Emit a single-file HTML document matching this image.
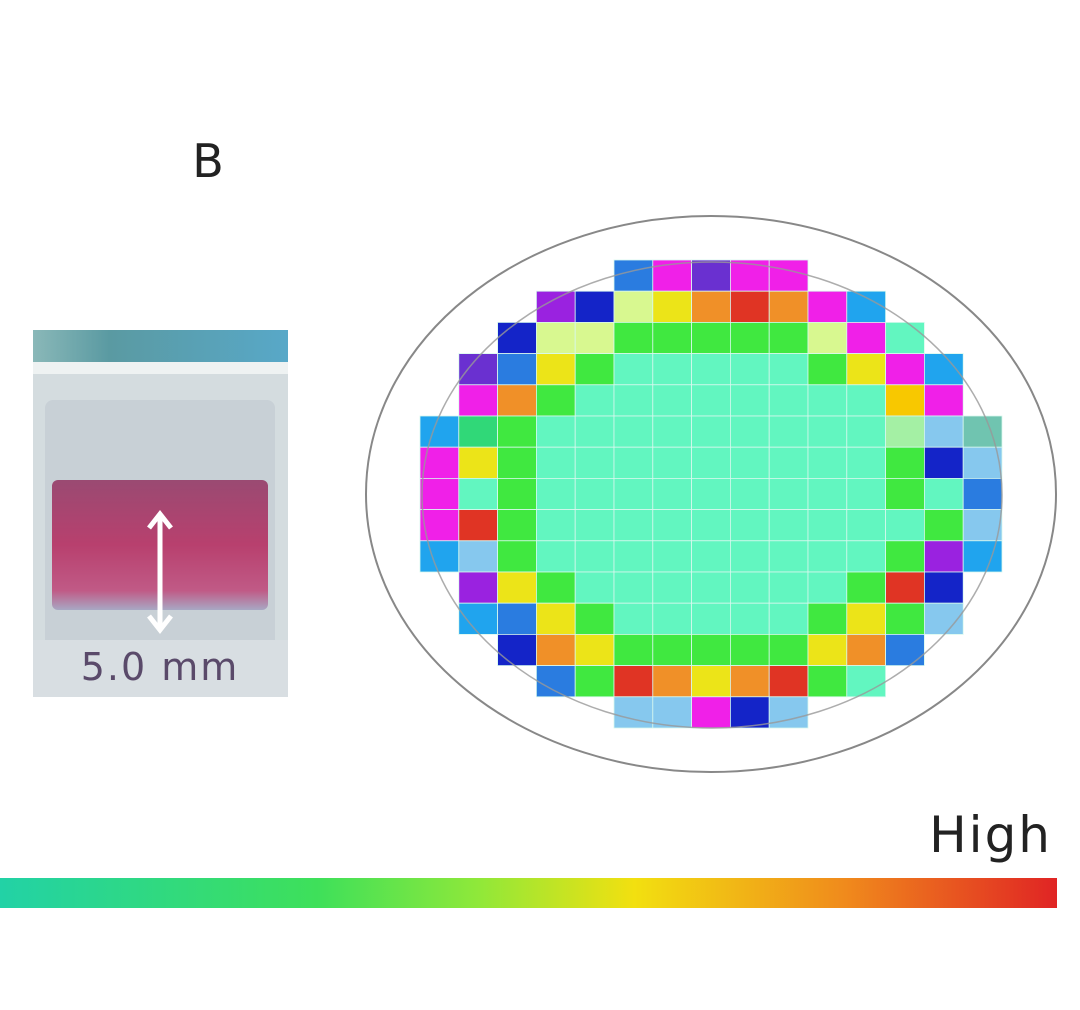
<!DOCTYPE html>
<html><head><meta charset="utf-8"><style>
html,body{margin:0;padding:0;background:#fff}
svg{display:block}
</style></head><body>
<svg id="fig" width="1080" height="1010" viewBox="0 0 1080 1010" xmlns="http://www.w3.org/2000/svg">
<defs>
<linearGradient id="cbar" x1="0" x2="1" y1="0" y2="0">
<stop offset="0" stop-color="#22d2a6"/><stop offset="0.3" stop-color="#3ee05a"/><stop offset="0.45" stop-color="#8ee83a"/>
<stop offset="0.6" stop-color="#f2e010"/><stop offset="0.8" stop-color="#f08a1c"/><stop offset="1" stop-color="#e02424"/>
</linearGradient>
<linearGradient id="liq" x1="0" x2="0" y1="0" y2="1">
<stop offset="0" stop-color="#9a4a72"/><stop offset="0.5" stop-color="#b8406e"/><stop offset="0.85" stop-color="#c05a86"/><stop offset="1" stop-color="#a8a8c4"/>
</linearGradient>
<linearGradient id="topband" x1="0" x2="1"><stop offset="0" stop-color="#8ab8b8"/><stop offset="0.3" stop-color="#5a9aa2"/><stop offset="1" stop-color="#58a8c8"/></linearGradient>
</defs>
<text x="208" y="177" font-family="DejaVu Sans, sans-serif" font-size="46" text-anchor="middle" fill="#222">B</text>
<g>
<rect x="33" y="330" width="255" height="367" fill="#d4dcdf"/>
<rect x="33" y="330" width="255" height="32" fill="url(#topband)"/>
<rect x="33" y="362" width="255" height="12" fill="#eef2f2"/>
<rect x="45" y="400" width="230" height="260" rx="8" fill="#c8d0d6"/>
<rect x="52" y="480" width="216" height="130" rx="6" fill="url(#liq)"/>
<rect x="33" y="640" width="255" height="57" fill="#d8dee2"/>
<line x1="160" y1="516" x2="160" y2="628" stroke="#fff" stroke-width="5"/>
<polyline points="149,528 160,514 171,528" fill="none" stroke="#fff" stroke-width="5"/>
<polyline points="149,616 160,630 171,616" fill="none" stroke="#fff" stroke-width="5"/>
<text x="160" y="680" font-family="DejaVu Sans, sans-serif" font-size="38" letter-spacing="2" text-anchor="middle" fill="#5a4a6a">5.0 mm</text>
</g>
<ellipse cx="711" cy="494" rx="345" ry="278" fill="none" stroke="#888" stroke-width="2"/>
<g id="grid"></g>
<ellipse cx="712" cy="495" rx="290" ry="233" fill="none" stroke="#999" stroke-width="1.5" opacity="0.8"/>
<text x="1052" y="852" font-family="DejaVu Sans, sans-serif" font-size="50" letter-spacing="2" text-anchor="end" fill="#222">High</text>
<rect x="0" y="878" width="1057" height="30" fill="url(#cbar)"/>
</svg>
<script>
const palette = {T:"#62f6c0",G:"#40e840",P:"#d8f890",Y:"#ece418",y:"#f8c800",O:"#f09028",R:"#e03424",M:"#f020e8",V:"#9a22e0",v:"#6a30d0",D:"#1424c8",B:"#2a7ce0",A:"#20a4ee",L:"#86c8ee",g:"#30d878",q:"#a4f0a4",s:"#70c4b0"};
const rows = [
"     BMvMM     ",
"   VDPYOROMA   ",
"  DPPGGGGGPMT  ",
" vBYGTTTTTGYMA ",
" MOGTTTTTTTTyM ",
"AgGTTTTTTTTTqLs",
"MYGTTTTTTTTTGDL",
"MTGTTTTTTTTTGTB",
"MRGTTTTTTTTTTGL",
"ALGTTTTTTTTTGVA",
" VYGTTTTTTTGRD ",
" ABYGTTTTTGYGL ",
"  DOYGGGGGYOB  ",
"   BGROYORGT   ",
"     LLMDL     "
];
const x0=420, y0=260, cw=38.8, ch=31.2;
const g=document.getElementById('grid');
rows.forEach((row,r)=>{[...row].forEach((k,c)=>{
  if(k===' ')return;
  const el=document.createElementNS('http://www.w3.org/2000/svg','rect');
  el.setAttribute('x',x0+c*cw);el.setAttribute('y',y0+r*ch);
  el.setAttribute('width',cw);el.setAttribute('height',ch);
  el.setAttribute('fill',palette[k]);el.setAttribute('stroke','#d8f8ee');el.setAttribute('stroke-width','0.8');
  
  
  g.appendChild(el);
});});
</script>
</body></html>
